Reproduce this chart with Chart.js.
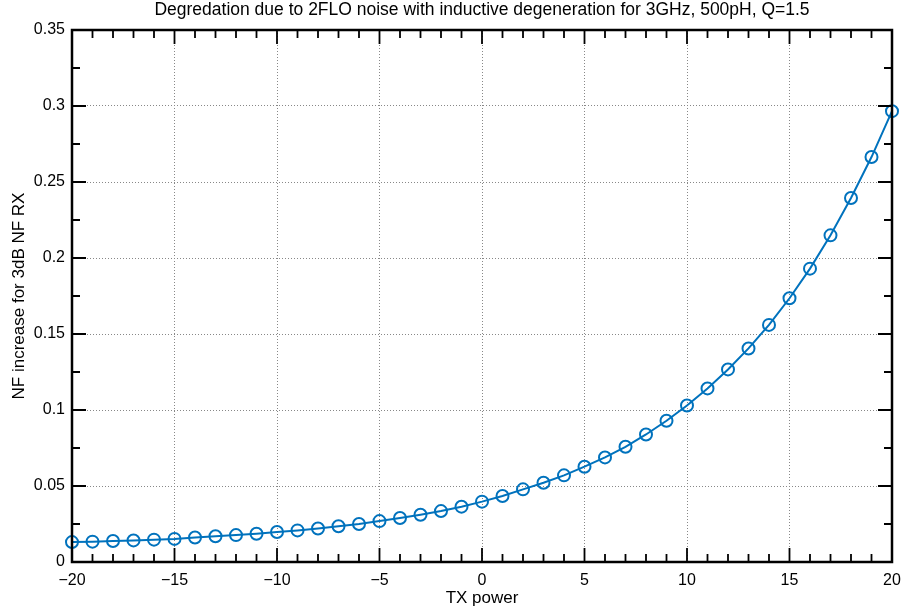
<!DOCTYPE html>
<html>
<head>
<meta charset="utf-8">
<script src="https://cdn.jsdelivr.net/npm/chart.js@4.4.1/dist/chart.umd.min.js"></script>
<style>
  body { margin: 0; background: #fff; }
  #wrap { width: 902px; height: 609px; position: relative; }
</style>
</head>
<body>
<div id="wrap"><canvas id="myChart"></canvas></div>
<script>
// TX power sweep (x) and NF increase (y)
const txPower = [-20, -19, -18, -17, -16, -15, -14, -13, -12, -11, -10,
                 -9, -8, -7, -6, -5, -4, -3, -2, -1, 0,
                 1, 2, 3, 4, 5, 6, 7, 8, 9, 10,
                 11, 12, 13, 14, 15, 16, 17, 18, 19, 20];
const nfIncrease = [0.0131, 0.0134, 0.0138, 0.0142, 0.0147, 0.0152, 0.0161, 0.0169, 0.0177, 0.0186, 0.0197,
                    0.0208, 0.0220, 0.0235, 0.0250, 0.0269, 0.0289, 0.0311, 0.0335, 0.0364, 0.0397,
                    0.0434, 0.0478, 0.0521, 0.0570, 0.0627, 0.0688, 0.0758, 0.0839, 0.0929, 0.1030,
                    0.1142, 0.1267, 0.1405, 0.1560, 0.1735, 0.1930, 0.2149, 0.2395, 0.2664, 0.2966];

const titleText = 'Degredation due to 2FLO noise with inductive degeneration for 3GHz, 500pH, Q=1.5';
const fontFamily = '"Liberation Sans", Arial, Helvetica, sans-serif';

// matlab-style box with inward ticks
const boxPlugin = {
    id: 'box',
    afterDraw(chart) {
        const ctx = chart.ctx;
        const a = chart.chartArea;
        const xs = chart.scales.x;
        const ys = chart.scales.y;
        ctx.save();
        ctx.strokeStyle = '#000';
        ctx.lineWidth = 1.8;
        ctx.beginPath();
        for (let v = -20; v <= 20; v += 1) {
            const px = xs.getPixelForValue(v);
            const len = (v % 5 === 0) ? 14 : 8;
            ctx.moveTo(px, a.bottom); ctx.lineTo(px, a.bottom - len);
            ctx.moveTo(px, a.top); ctx.lineTo(px, a.top + len);
        }
        for (let i = 0; i <= 14; i++) {
            const py = ys.getPixelForValue(i * 0.025);
            const len = (i % 2 === 0) ? 14 : 8;
            ctx.moveTo(a.left, py); ctx.lineTo(a.left + len, py);
            ctx.moveTo(a.right, py); ctx.lineTo(a.right - len, py);
        }
        ctx.stroke();
        ctx.lineWidth = 2.5;
        ctx.strokeRect(a.left, a.top, a.right - a.left, a.bottom - a.top);
        ctx.restore();
    }
};

const ctx = document.getElementById('myChart').getContext('2d');
const chart = new Chart(ctx, {
    type: 'line',
    data: {
        labels: txPower,
        datasets: [{
            data: txPower.map((x, i) => ({ x: x, y: nfIncrease[i] })),
            borderColor: '#0072BD',
            borderWidth: 2,
            pointRadius: 6,
            pointBorderWidth: 2,
            pointBorderColor: '#0072BD',
            pointBackgroundColor: 'rgba(0,0,0,0)',
            tension: 0,
            clip: false
        }]
    },
    options: {
        responsive: true,
        maintainAspectRatio: false,
        animation: false,
        layout: { padding: { left: 0, right: 10, top: 0, bottom: 0 } },
        plugins: {
            legend: { display: false },
            tooltip: { enabled: false },
            title: {
                display: true,
                fullSize: false,  // center over the plot box like matlab
                text: titleText,
                color: '#000',
                font: { family: fontFamily, size: 17.5, weight: 'normal' },
                padding: { top: 0, bottom: 9 }
            }
        },
        scales: {
            x: {
                type: 'linear',
                min: -20,
                max: 20,
                afterFit: s => { s.height = 47; s.paddingLeft = 0; s.paddingRight = 0; },
                border: { display: false, dash: [1, 2] },
                grid: { color: '#888', lineWidth: 1, drawTicks: false },
                ticks: {
                    stepSize: 5,
                    padding: 9,
                    color: '#000',
                    maxRotation: 0,
                    font: { family: fontFamily, size: 16 },
                    callback: v => String(v).replace('-', '\u2212')
                },
                title: {
                    display: true,
                    text: 'TX power',
                    color: '#000',
                    font: { family: fontFamily, size: 17 },
                    padding: { top: 5, bottom: 0 }
                }
            },
            y: {
                min: 0,
                max: 0.35,
                afterFit: s => { s.width = 72; s.paddingTop = 0; s.paddingBottom = 0; },
                border: { display: false, dash: [1, 2] },
                grid: { color: '#888', lineWidth: 1, drawTicks: false },
                ticks: {
                    stepSize: 0.05,
                    padding: 7,
                    color: '#000',
                    font: { family: fontFamily, size: 16 },
                    callback: v => String(+v.toFixed(2))
                },
                title: {
                    display: true,
                    text: 'NF increase for 3dB NF RX',
                    color: '#000',
                    font: { family: fontFamily, size: 17 },
                    padding: { top: 8.8, bottom: 0 }
                }
            }
        }
    },
    plugins: [boxPlugin]
});
</script>
</body>
</html>
